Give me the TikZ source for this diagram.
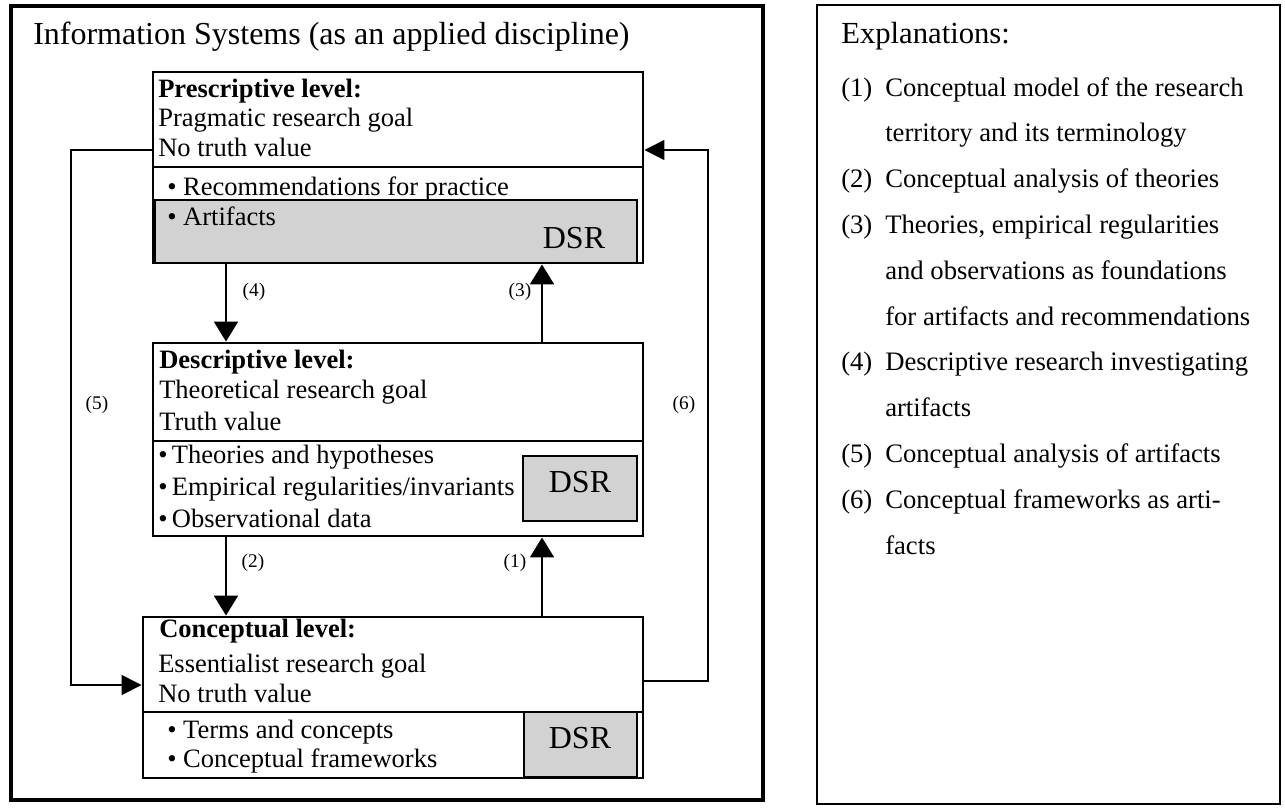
\documentclass[tikz,border=0pt]{standalone}
\usepackage{fontspec}
\setmainfont{Liberation Serif}
\usetikzlibrary{arrows.meta,fit}
\definecolor{dsrgray}{HTML}{D2D2D2}
\begin{document}
\begin{tikzpicture}[x=0.75pt,y=-0.75pt,
  frame/.style={draw, line width=3.5pt, inner sep=0pt},
  panel/.style={draw, line width=1.5pt, inner sep=0pt},
  levelbox/.style={draw, line width=2.2pt, inner sep=0pt},
  dsrbox/.style={draw, line width=0.9pt, fill=dsrgray, inner sep=0pt},
  divider/.style={line width=1.6pt},
  flow/.style={line width=1.5pt, -{Triangle[width=18pt,length=15pt]}},
  loopline/.style={line width=1.2pt, -{Triangle[width=15pt,length=15pt]}},
  txt/.style={anchor=base west, inner sep=0pt, font=\fontsize{19.9}{24}\selectfont},
  head/.style={anchor=base west, inner sep=0pt, font=\fontsize{19.9}{24}\selectfont\bfseries},
  lbl/.style={inner sep=0pt, font=\fontsize{14.5}{17}\selectfont},
  dsr/.style={anchor=base, inner sep=0pt, font=\fontsize{24}{28}\selectfont},
  expl/.style={anchor=base west, inner sep=0pt, font=\fontsize{20}{24}\selectfont},
]
\useasboundingbox (0,0) rectangle (1285,807);
\fill[white] (0,0) rectangle (1285,807);

% outer frames
\node[frame, fit={(11,6) (763,800)}] (frame) {};
\node[panel, fit={(817,5) (1280,804)}] (explbox) {};

\node[anchor=base west, inner sep=0pt, font=\fontsize{24}{28}\selectfont] (title) at (33,44) {Information Systems (as an applied discipline)};

% helper coordinates
\coordinate (yP) at (0,167);
\coordinate (yD) at (0,441);
\coordinate (yC) at (0,712);
\coordinate (xa) at (226,0);
\coordinate (xb) at (542,0);
\coordinate (x5) at (71,0);
\coordinate (x6) at (708,0);
\coordinate (yTop) at (0,150);
\coordinate (y5b) at (0,685);
\coordinate (y6a) at (0,681);

% Prescriptive level
\node[dsrbox, fit={(155,200) (637,263)}] (Pg) {};
\node[levelbox, fit={(153,72) (643,263)}] (P) {};
\draw[divider] (P.west |- yP) -- (P.east |- yP);
\node[head] (Ph) at (158,97) {Prescriptive level:};
\node[txt] (P1) at (158,126) {Pragmatic research goal};
\node[txt] (P2) at (158,156) {No truth value};
\node[txt] (P3) at (167,195) {• Recommendations for practice};
\node[txt] (P4) at (167,225) {• Artifacts};
\node[dsr] (Pd) at (574,248) {DSR};

% Descriptive level
\node[levelbox, fit={(153,343) (643,536)}] (D) {};
\draw[divider] (D.west |- yD) -- (D.east |- yD);
\node[dsrbox, fit={(523,456) (637,521)}] (Dg) {};
\node[head] (Dh) at (159,368) {Descriptive level:};
\node[txt] (D1) at (159,398) {Theoretical research goal};
\node[txt] (D2) at (159,430) {Truth value};
\node[txt] (D3) at (158,463) {•\,Theories and hypotheses};
\node[txt] (D4) at (158,495) {•\,Empirical regularities/invariants};
\node[txt] (D5) at (158,527) {•\,Observational data};
\node[dsr] (Dd) at (580,492) {DSR};

% Conceptual level
\node[dsrbox, fit={(524,712) (637,777)}] (Cg) {};
\node[levelbox, fit={(143,617) (643,778)}] (C) {};
\draw[divider] (C.west |- yC) -- (C.east |- yC);
\node[head] (Ch) at (159,637) {Conceptual level:};
\node[txt] (C1) at (158,672) {Essentialist research goal};
\node[txt] (C2) at (158,702) {No truth value};
\node[txt] (C3) at (167,738) {• Terms and concepts};
\node[txt] (C4) at (167,767) {• Conceptual frameworks};
\node[dsr] (Cd) at (580,748) {DSR};

% connectors
\draw[flow] (xa |- P.south) -- (xa |- D.north);
\draw[flow] (xb |- D.north) -- (xb |- P.south);
\draw[flow] (xa |- D.south) -- (xa |- C.north);
\draw[flow] (xb |- C.north) -- (xb |- D.south);
\draw[loopline] (P.west |- yTop) -| (x5 |- y5b) -- (C.west |- y5b);
\draw[loopline] (C.east |- y6a) -| (x6 |- yTop) -- (P.east |- yTop);

% labels
\node[lbl] (L4) at (254,292) {(4)};
\node[lbl] (L3) at (520,292) {(3)};
\node[lbl] (L2) at (253,563) {(2)};
\node[lbl] (L1) at (515,563) {(1)};
\node[lbl] (L5) at (97,405) {(5)};
\node[lbl] (L6) at (684,405) {(6)};

% explanations
\node[anchor=base west, inner sep=0pt, font=\fontsize{23}{28}\selectfont] (Eh) at (841,43) {Explanations:};
\node[expl] (N1) at (841,96) {(1)};
\node[expl] (E1a) at (885,96) {Conceptual model of the research};
\node[expl] (E1b) at (885,141.8) {territory and its terminology};
\node[expl] (N2) at (841,187.6) {(2)};
\node[expl] (E2) at (885,187.6) {Conceptual analysis of theories};
\node[expl] (N3) at (841,233.4) {(3)};
\node[expl] (E3a) at (885,233.4) {Theories, empirical regularities};
\node[expl] (E3b) at (885,279.2) {and observations as foundations};
\node[expl] (E3c) at (885,325) {for artifacts and recommendations};
\node[expl] (N4) at (841,370.8) {(4)};
\node[expl] (E4a) at (885,370.8) {Descriptive research investigating};
\node[expl] (E4b) at (885,416.6) {artifacts};
\node[expl] (N5) at (841,462.4) {(5)};
\node[expl] (E5) at (885,462.4) {Conceptual analysis of artifacts};
\node[expl] (N6) at (841,508.2) {(6)};
\node[expl] (E6a) at (885,508.2) {Conceptual frameworks as arti-};
\node[expl] (E6b) at (885,554) {facts};
\end{tikzpicture}
\end{document}
